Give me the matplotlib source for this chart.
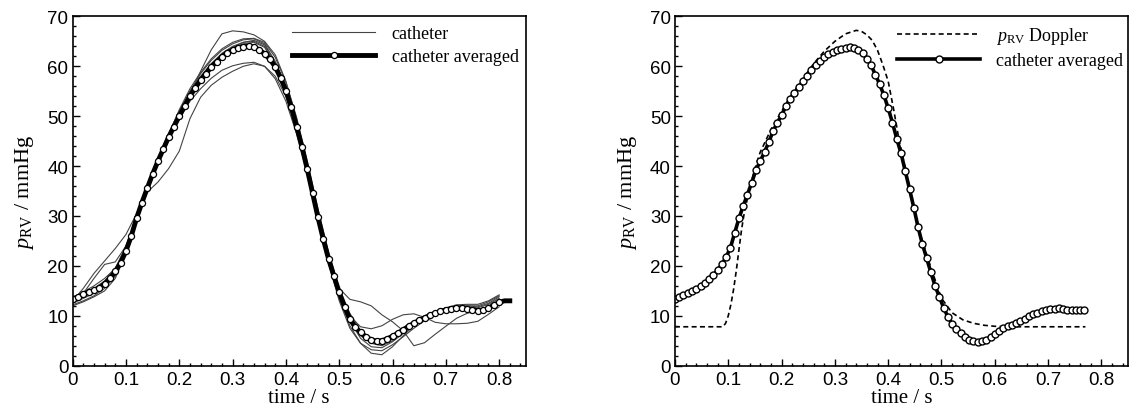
import numpy as np
import matplotlib
matplotlib.use('Agg')
import matplotlib.pyplot as plt
from matplotlib.ticker import MultipleLocator

plt.rcParams['font.family'] = 'Liberation Sans'
plt.rcParams['mathtext.fontset'] = 'custom'
plt.rcParams['mathtext.rm'] = 'Liberation Serif'
plt.rcParams['mathtext.it'] = 'Liberation Serif:italic'

SERIF = 'Liberation Serif'

# individual catheter runs, sampled every 0.02 s from 0 to 0.80 s
cath_dt = 0.02
cath_1 = [13.5, 14.8, 16.0, 17.5, 19.5, 23.5, 29.5, 35.5, 41.0, 46.0, 50.5, 54.5, 59.0, 63.3, 66.5, 67.1,
          66.9, 66.3, 65.0, 62.3, 57.0, 49.5, 40.5, 30.8, 22.0, 14.8, 9.0, 5.5, 3.8, 3.6, 4.8, 6.5,
          8.2, 9.5, 10.5, 11.5, 12.0, 12.0, 11.8, 12.5, 13.8]
cath_2 = [12.5, 13.5, 14.5, 16.0, 18.5, 23.0, 29.0, 35.0, 40.5, 45.5, 49.5, 53.0, 55.5, 57.6, 59.2, 60.1,
          60.6, 60.8, 60.0, 57.5, 53.0, 46.5, 38.5, 29.0, 20.5, 13.0, 7.5, 4.5, 3.2, 3.0, 4.2, 5.8,
          7.5, 9.0, 10.2, 11.0, 11.5, 11.5, 11.3, 11.8, 12.5]
cath_3 = [13.0, 14.0, 15.5, 17.0, 19.5, 24.0, 29.8, 34.8, 36.8, 39.5, 43.0, 49.5, 53.8, 56.2, 57.8, 59.0,
          60.0, 60.5, 60.0, 58.0, 54.0, 47.5, 39.5, 30.5, 22.5, 15.5, 13.3, 12.8, 12.0, 10.2, 8.8, 7.0,
          4.0, 4.6, 6.3, 7.9, 9.5, 10.5, 11.0, 11.5, 12.5]
cath_4 = [13.0, 15.5, 18.5, 21.0, 23.5, 26.3, 30.5, 36.0, 41.5, 46.5, 51.0, 55.0, 58.0, 60.5, 62.5, 63.8,
          64.5, 64.8, 63.8, 60.5, 55.5, 48.5, 39.8, 30.0, 21.3, 14.3, 9.0, 6.0, 4.5, 4.3, 5.3, 6.8,
          8.3, 9.5, 10.5, 11.3, 11.8, 11.8, 11.6, 12.3, 13.5]
cath_5 = [12.8, 14.5, 17.5, 20.3, 20.8, 24.0, 29.5, 35.5, 41.5, 46.5, 51.0, 55.0, 58.5, 61.2, 63.2, 64.5,
          65.3, 65.5, 64.5, 61.0, 55.8, 48.3, 39.3, 29.5, 20.8, 13.6, 8.0, 4.5, 2.5, 2.2, 3.8, 6.0,
          8.0, 9.5, 10.6, 11.5, 12.0, 12.0, 12.0, 12.8, 14.0]
cath_6 = [12.0, 12.8, 13.8, 15.0, 17.5, 22.5, 28.8, 35.0, 40.5, 45.5, 50.0, 54.0, 57.5, 60.2, 62.3, 63.8,
          64.8, 65.2, 64.3, 60.8, 56.0, 49.0, 40.3, 30.5, 21.5, 14.5, 10.0, 7.8, 7.4, 8.0, 9.3, 10.2,
          10.4, 9.7, 8.7, 8.4, 8.4, 8.5, 8.9, 10.3, 11.8]
cath_7 = [12.2, 13.0, 14.0, 15.5, 18.0, 23.0, 29.2, 35.3, 41.0, 46.0, 50.5, 54.5, 57.8, 60.5, 62.6, 64.0,
          64.8, 65.0, 64.0, 60.3, 55.3, 48.5, 40.0, 30.8, 22.3, 15.2, 10.0, 6.5, 4.5, 4.0, 5.0, 6.5,
          8.0, 9.3, 10.4, 11.2, 11.6, 11.5, 11.2, 11.8, 12.8]
cath_8 = [13.8, 14.5, 15.0, 16.0, 18.0, 22.5, 29.0, 35.0, 40.8, 46.3, 51.3, 55.5, 58.8, 61.5, 63.5, 64.8,
          65.5, 65.6, 64.8, 61.8, 56.8, 49.8, 41.0, 31.5, 22.8, 15.5, 10.5, 7.0, 5.2, 4.8, 5.5, 7.0,
          8.6, 9.8, 10.8, 11.6, 12.2, 12.3, 12.3, 13.0, 14.2]
catheters = [cath_1, cath_2, cath_3, cath_4, cath_5, cath_6, cath_7, cath_8]

# averaged catheter curve for the left plot, every 0.01 s from 0 to 0.82 s
avg_left_dt = 0.01
avg_left = [13.3, 13.8, 14.3, 14.7, 15.1, 15.6, 16.4, 17.5, 18.9, 20.6,
            23.0, 26.0, 29.6, 32.7, 35.6, 38.4, 41.0, 43.4, 45.8, 47.9,
            50.0, 52.0, 54.0, 55.7, 57.2, 58.5, 59.9, 60.9, 61.9, 62.7,
            63.2, 63.7, 63.9, 64.0, 63.9, 63.3, 62.5, 61.4, 59.9, 57.7,
            55.1, 51.8, 47.9, 43.9, 39.4, 34.6, 29.8, 25.4, 21.4, 18.0,
            14.7, 11.8, 9.4, 7.7, 6.7, 5.8, 5.2, 4.9, 5.0, 5.4,
            5.9, 6.5, 7.2, 7.9, 8.5, 9.1, 9.6, 10.1, 10.5, 10.9,
            11.2, 11.4, 11.5, 11.5, 11.4, 11.2, 11.0, 11.1, 11.5, 12.2,
            12.7, 13.0, 13.0]

# averaged catheter curve for the right plot, every 0.008 s from 0 to 0.768 s
avg_right_dt = 0.008
avg_right = [13.3, 13.7, 14.1, 14.5, 14.9, 15.4, 16.0, 16.6, 17.3, 18.2,
             19.2, 20.3, 21.8, 23.6, 26.6, 29.5, 32.0, 34.3, 36.7, 39.2,
             41.0, 42.8, 44.8, 47.0, 48.7, 50.2, 52.0, 53.5, 54.6, 55.9,
             57.0, 58.1, 59.3, 60.2, 61.1, 61.8, 62.5, 62.9, 63.2, 63.5,
             63.7, 63.9, 63.7, 63.3, 62.7, 61.5, 60.2, 58.3, 56.4, 54.2,
             51.6, 48.7, 45.5, 42.6, 39.0, 35.4, 31.7, 27.8, 24.4, 21.6,
             18.7, 16.0, 13.8, 11.6, 9.8, 8.3, 7.3, 6.5, 5.8, 5.2,
             4.95, 4.8, 4.9, 5.25, 5.8, 6.4, 7.0, 7.5, 7.9, 8.2,
             8.5, 9.0, 9.4, 9.9, 10.4, 10.6, 11.0, 11.2, 11.4, 11.4,
             11.5, 11.4, 11.2, 11.2, 11.2, 11.2, 11.2]

# Doppler estimate
doppler_t = [0.0, 0.09, 0.095, 0.100, 0.105, 0.110, 0.115, 0.120, 0.125, 0.130, 0.14, 0.15, 0.16,
             0.18, 0.20, 0.22, 0.24, 0.26, 0.28, 0.30, 0.32, 0.34, 0.35, 0.36, 0.37, 0.38, 0.39,
             0.40, 0.41, 0.42, 0.43, 0.44, 0.46, 0.48, 0.50, 0.52, 0.54, 0.56, 0.58, 0.60, 0.62, 0.77]
doppler_p = [7.8, 7.8, 8.5, 10.0, 12.3, 15.3, 19.0, 23.2, 27.3, 30.6, 35.5, 39.5, 42.8,
             47.3, 51.0, 54.5, 57.5, 60.5, 63.0, 65.0, 66.5, 67.2, 67.0, 66.3, 65.2, 63.2, 60.3,
             57.0, 51.5, 45.5, 40.5, 35.8, 26.3, 19.7, 13.5, 10.6, 9.2, 8.5, 8.1, 7.9, 7.8, 7.8]

ylabel = r'$p_{\rm RV}$ / mmHg'


def style_axes(ax):
    ax.set_xlim(0, 0.85)
    ax.set_ylim(0, 70)
    ax.xaxis.set_minor_locator(MultipleLocator(0.02))
    ax.yaxis.set_major_locator(MultipleLocator(10))
    ax.yaxis.set_minor_locator(MultipleLocator(2))
    ax.set_xticks(np.arange(0, 0.81, 0.1))
    ax.set_xticklabels(['0', '0.1', '0.2', '0.3', '0.4', '0.5', '0.6', '0.7', '0.8'])
    ax.tick_params(which='both', direction='in', top=False, right=False, width=1.0, labelsize=13.5)
    ax.tick_params(which='major', length=5)
    ax.tick_params(which='minor', length=2.5)
    ax.tick_params(axis='x', which='major', pad=3.5)
    ax.tick_params(axis='y', which='major', pad=3)
    for s in ax.spines.values():
        s.set_linewidth(1.2)
    ax.set_xlabel('time / s', family=SERIF, fontsize=15, labelpad=0)
    ax.set_ylabel(ylabel, family=SERIF, fontsize=16, labelpad=8)


fig = plt.figure(figsize=(11.3, 4.1), dpi=100)
ax1 = fig.add_axes([0.0643, 0.1056, 0.401, 0.852])
ax2 = fig.add_axes([0.5973, 0.1056, 0.401, 0.852])

leg_kw = dict(loc='upper left', frameon=False, borderpad=0, borderaxespad=0, handlelength=4.6,
              handletextpad=0.9, labelspacing=0.35, numpoints=1, prop={'family': SERIF, 'size': 13})

# left: all catheter runs plus their average
tc = np.arange(len(cath_1)) * cath_dt
for i, c in enumerate(catheters):
    ax1.plot(tc, c, color='#444444', lw=0.8, label='catheter' if i == 0 else None)
tl = np.arange(len(avg_left)) * avg_left_dt
ax1.plot(tl, avg_left, color='black', lw=3.5, marker='o', ms=4.4, mfc='white', mec='black',
         mew=0.9, markevery=list(range(81)), label='catheter averaged')
style_axes(ax1)
ax1.legend(bbox_to_anchor=(0.485, 0.975), **leg_kw)

# right: Doppler vs averaged catheter
ax2.plot(doppler_t, doppler_p, color='black', lw=1.2, ls=(0, (3, 2)), label=r'$p_{\rm RV}$ Doppler')
tr = np.arange(len(avg_right)) * avg_right_dt
ax2.plot(tr, avg_right, color='black', lw=2.6, marker='o', ms=5.0, mfc='white', mec='black',
         mew=1.0, label='catheter averaged')
style_axes(ax2)
ax2.legend(bbox_to_anchor=(0.49, 0.975), **leg_kw)

fig.savefig('out.png', dpi=100)
